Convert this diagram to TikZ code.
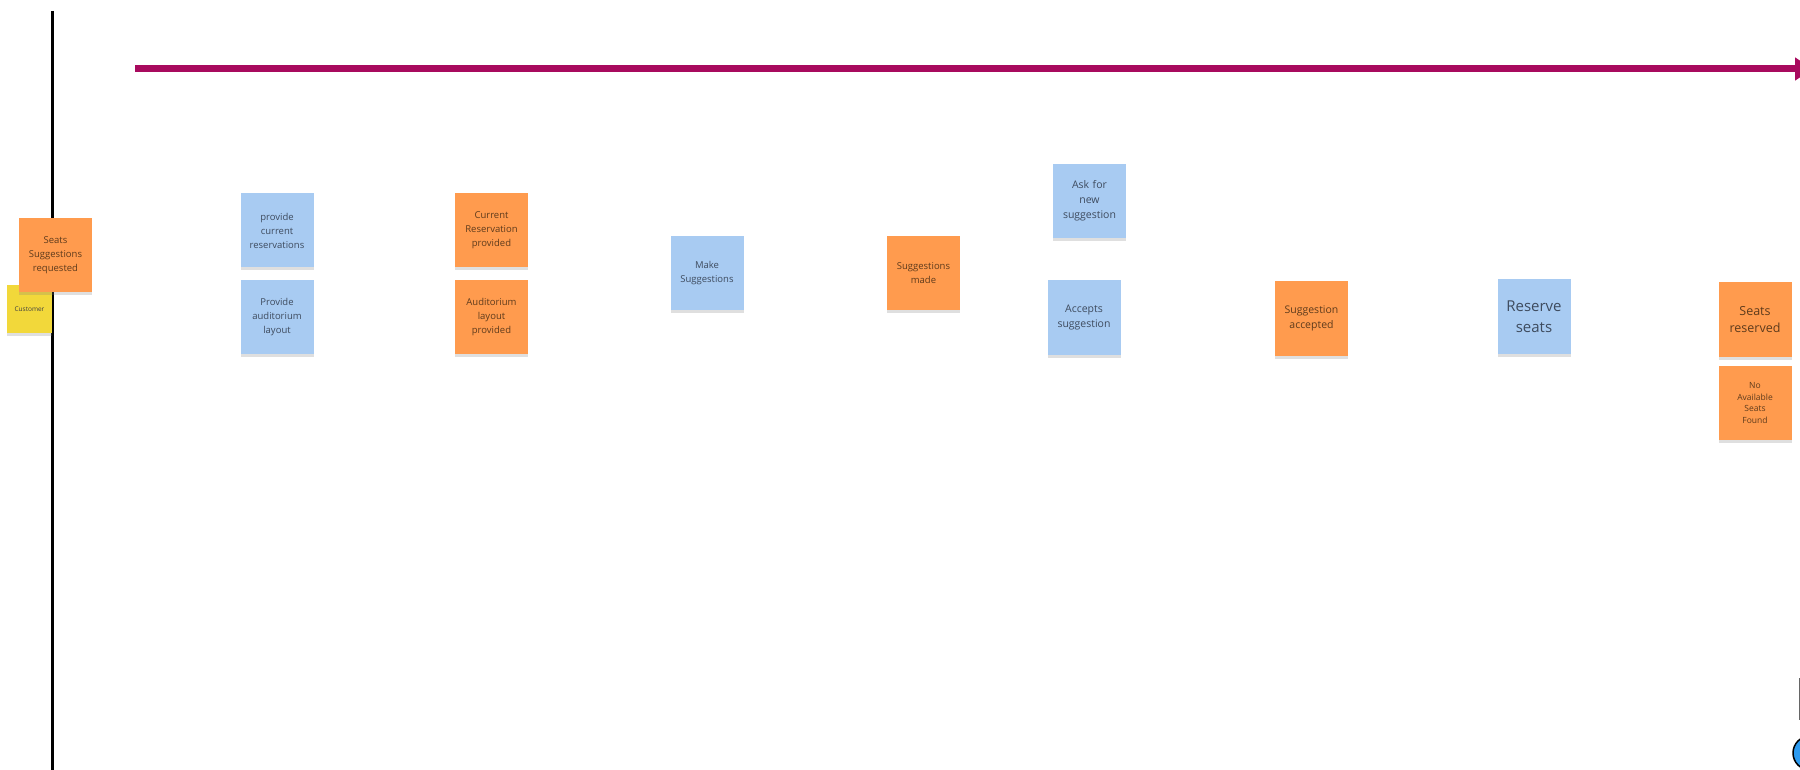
\documentclass[tikz,border=0pt]{standalone}
\usepackage{fontspec}
\setmainfont{Open Sans}
\usetikzlibrary{positioning,shadows,arrows.meta}
\definecolor{stickyblue}{HTML}{A8CBF2}
\definecolor{stickyorange}{HTML}{FF9B4E}
\definecolor{stickyyellow}{HTML}{F2D83A}
\definecolor{timeline}{HTML}{A80A5E}
\definecolor{bluetext}{HTML}{3E4B5E}
\definecolor{orangetext}{HTML}{5E3B1C}
\definecolor{figblue}{HTML}{2D9BF0}

\begin{document}
\begin{tikzpicture}[x=1pt, y=-1pt, node distance=12pt, font=\fontsize{9.5}{14}\selectfont]
\tikzstyle{sticky}=[rectangle, minimum width=73pt, minimum height=74pt, inner sep=0pt, text width=68pt, align=center, drop shadow={shadow xshift=0pt, shadow yshift=-3pt, opacity=0.25}]
\tikzstyle{cmd}=[sticky, fill=stickyblue, text=bluetext]
\tikzstyle{evt}=[sticky, fill=stickyorange, text=orangetext]
\tikzstyle{actor}=[rectangle, fill=stickyyellow, minimum width=45pt, minimum height=48pt, inner sep=0pt, text=black!75, font=\fontsize{6.5}{8}\selectfont, drop shadow={shadow xshift=0pt, shadow yshift=-3pt, opacity=0.25}]
\useasboundingbox (0,0) rectangle (1800,770);
\clip (0,0) rectangle (1800,770);
% swimlane and timeline
\coordinate (lanetop) at (52,11);
\coordinate (lanebot) at (52,770);
\draw[line width=3pt] (lanetop) -- (lanebot);
\coordinate (tlstart) at (135,69);
\coordinate (tlend) at (1813,69);
\draw[timeline, line width=7pt, -{Triangle[length=18pt,width=22pt]}] (tlstart) -- (tlend);
% stickies
\node[actor] (cust) at (29.5,309) {Customer};
\node[evt] (ssr) at (55.5,255) {Seats\\Suggestions\\requested};
\node[cmd] (pcr) at (277,230.5) {provide\\current\\reservations};
\node[cmd, below=of pcr] (pal) {Provide\\auditorium\\layout};
\node[evt] (crp) at (491.5,230.5) {Current\\Reservation\\provided};
\node[evt, below=of crp] (alp) {Auditorium\\layout\\provided};
\node[cmd] (mks) at (707,273) {Make\\Suggestions};
\node[evt] (sgm) at (923.5,273) {Suggestions\\made};
\node[cmd, font=\fontsize{10.5}{15}\selectfont] (afn) at (1089.5,201) {Ask for\\new\\suggestion};
\node[cmd, font=\fontsize{10.5}{15}\selectfont] (acs) at (1084,317.5) {Accepts\\suggestion};
\node[evt, font=\fontsize{10.5}{15}\selectfont] (sga) at (1311.5,318.5) {Suggestion\\accepted};
\node[cmd, font=\fontsize{15}{21}\selectfont] (rsv) at (1534,316.5) {Reserve\\seats};
\node[evt, font=\fontsize{12.5}{17}\selectfont] (srv) at (1755,319.5) {Seats\\reserved};
\node[evt, below=9pt of srv, font=\fontsize{8.5}{11.7}\selectfont] (nas) {No\\Available\\Seats\\Found};
% cut-off figure at the right edge
\coordinate (edgetop) at (1799,678);
\coordinate (edgebot) at (1799,720);
\draw[black!60, line width=1pt] (edgetop) -- (edgebot);
\coordinate (figc) at (1810,753);
\draw[fill=figblue, line width=1.5pt] (figc) circle (17);
\end{tikzpicture}
\end{document}
